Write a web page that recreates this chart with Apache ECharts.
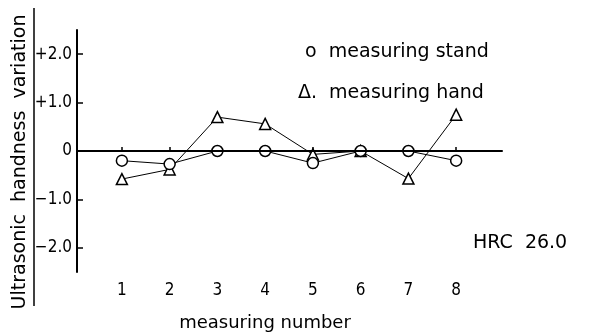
<!DOCTYPE html>
<html><head><meta charset="utf-8">
<script src="https://cdn.jsdelivr.net/npm/echarts@6/dist/echarts.min.js"></script>
<style>html,body{margin:0;padding:0;background:#fff}#c{width:590px;height:335px}</style>
</head><body><div id="c"></div>
<script>
const measuringNumbers = [1, 2, 3, 4, 5, 6, 7, 8];
const standValues = [-0.2, -0.27, 0, 0, -0.25, 0, 0, -0.2];
const handValues = [-0.58, -0.38, 0.7, 0.56, -0.07, 0, -0.57, 0.75];
const yTickValues = [-2, -1, 0, 1, 2];
const yTickLabels = ['\u22122.0', '\u22121.0', '0', '+1.0', '+2.0'];
const xTickLabels = ['1', '2', '3', '4', '5', '6', '7', '8'];

const TICKFONT = '"Liberation Sans Narrow", "DejaVu Sans Condensed", "Liberation Sans"';
const chart = echarts.init(document.getElementById('c'));
chart.setOption({
  animation: false,
  backgroundColor: '#fff',
  grid: { left: 77, right: 88, top: 30, bottom: 63 },
  xAxis: {
    type: 'value', min: 0.06, max: 8.96,
    axisLine: { show: true, lineStyle: { color: '#000', width: 2 } },
    axisTick: { show: true, inside: true, length: 4, customValues: measuringNumbers, lineStyle: { color: '#000', width: 1.5 } },
    axisLabel: { customValues: measuringNumbers, margin: 10, color: '#000', fontFamily: TICKFONT, fontSize: 17,
      formatter: v => xTickLabels[measuringNumbers.indexOf(v)] },
    splitLine: { show: false }
  },
  yAxis: {
    type: 'value', min: -2.5, max: 2.5,
    axisLine: { show: true, lineStyle: { color: '#000', width: 2 } },
    axisTick: { show: true, inside: true, length: 6, customValues: yTickValues, lineStyle: { color: '#000', width: 1.5 } },
    axisLabel: { customValues: yTickValues, margin: 5, color: '#000', fontFamily: TICKFONT, fontSize: 17,
      formatter: v => yTickLabels[yTickValues.indexOf(v)] },
    splitLine: { show: false }
  },
  series: [
    {
      type: 'line', name: 'measuring hand',
      data: measuringNumbers.map((x, i) => [x, handValues[i]]),
      symbol: 'triangle', symbolSize: 11,
      lineStyle: { color: '#000', width: 1 },
      itemStyle: { color: '#fff', borderColor: '#000', borderWidth: 1.5 },
      markLine: { silent: true, symbol: 'none', label: { show: false },
        lineStyle: { color: '#000', width: 2, type: 'solid' }, data: [{ yAxis: 0 }] },
      z: 3
    },
    {
      type: 'line', name: 'measuring stand',
      data: measuringNumbers.map((x, i) => [x, standValues[i]]),
      symbol: 'circle', symbolSize: 11,
      lineStyle: { color: '#000', width: 1 },
      itemStyle: { color: '#fff', borderColor: '#000', borderWidth: 1.5 },
      z: 4
    }
  ],
  graphic: [
    { type: 'text', left: 305, y: 52, style: { text: 'o  measuring stand', font: '19px "DejaVu Sans"', fill: '#000', verticalAlign: 'middle' } },
    { type: 'text', left: 298, y: 93, style: { text: '\u0394.  measuring hand', font: '19px "DejaVu Sans"', fill: '#000', verticalAlign: 'middle' } },
    { type: 'text', left: 473, y: 243, style: { text: 'HRC  26.0', font: '19px "DejaVu Sans"', fill: '#000', verticalAlign: 'middle' } },
    { type: 'text', x: 265, y: 323, style: { text: 'measuring number', font: '18px "DejaVu Sans"', fill: '#000', align: 'center', verticalAlign: 'middle' } },
    { type: 'text', x: 20, y: 162, rotation: Math.PI / 2, style: { text: 'Ultrasonic  handness  variation', font: '19px "DejaVu Sans"', fill: '#000', align: 'center', verticalAlign: 'middle' } },
    { type: 'line', shape: { x1: 34, y1: 8, x2: 34, y2: 306 }, style: { stroke: '#000', lineWidth: 1.5 } }
  ]
});
</script></body></html>
